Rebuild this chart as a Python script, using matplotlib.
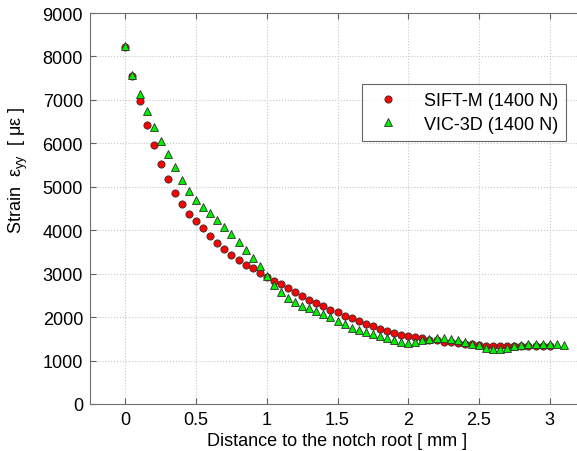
import numpy as np
import matplotlib
matplotlib.use('Agg')
import matplotlib.pyplot as plt

plt.rcParams['font.family'] = ['Liberation Sans', 'DejaVu Sans']
plt.rcParams['mathtext.fontset'] = 'custom'
plt.rcParams['mathtext.rm'] = 'Liberation Sans'
plt.rcParams['mathtext.it'] = 'Liberation Sans'

# distance to notch root [mm], sampled every 0.05 mm
sift_x = np.round(np.arange(61) * 0.05, 2)
sift_y = [8220, 7560, 6975, 6430, 5962, 5532, 5175, 4857, 4604, 4381,
          4220, 4045, 3875, 3714, 3568, 3430, 3305, 3200, 3130, 3015,
          2920, 2830, 2755, 2663, 2571, 2479, 2402, 2325, 2249, 2171,
          2111, 2033, 1973, 1911, 1849, 1789, 1734, 1680, 1634, 1595,
          1560, 1535, 1512, 1480, 1465, 1434, 1420, 1404, 1388, 1373,
          1358, 1345, 1340, 1335, 1335, 1338, 1340, 1342, 1340, 1335,
          1330]

vic_x = np.round(np.arange(63) * 0.05, 2)
vic_y = [8240, 7580, 7130, 6737, 6384, 6062, 5755, 5450, 5150, 4910,
         4703, 4542, 4390, 4236, 4081, 3913, 3736, 3545, 3354, 3165,
         2940, 2740, 2571, 2440, 2341, 2263, 2203, 2141, 2079, 2003,
         1911, 1834, 1757, 1696, 1650, 1604, 1558, 1512, 1473, 1434,
         1410, 1434, 1480, 1496, 1512, 1512, 1496, 1465, 1434, 1388,
         1358, 1296, 1266, 1266, 1296, 1327, 1358, 1373, 1373, 1388,
         1388, 1373, 1358]

x_ticks = [0, 0.5, 1, 1.5, 2, 2.5, 3]
x_labels = ['0', '0.5', '1', '1.5', '2', '2.5', '3']
y_ticks = list(range(0, 9001, 1000))

fig = plt.figure(figsize=(5.77, 4.52), dpi=100)
ax = fig.add_axes([0.156, 0.104, 0.858, 0.865])

ax.plot(sift_x, sift_y, 'o', color='#ff0000', markeredgecolor='#303030',
        markeredgewidth=0.6, markersize=5.2, label='SIFT-M (1400 N)')
ax.plot(vic_x, vic_y, '^', color='#00f000', markeredgecolor='#303030',
        markeredgewidth=0.6, markersize=5.8, label='VIC-3D (1400 N)')

ax.set_xlim(-0.25, 3.25)
ax.set_ylim(0, 9000)
ax.set_xticks(x_ticks)
ax.set_xticklabels(x_labels)
ax.set_yticks(y_ticks)
ax.grid(True, linestyle=':', color='#c8c8c8', linewidth=0.8)
ax.tick_params(direction='in', top=True, right=True, length=4,
               labelsize=13, color='#606060')
ax.tick_params(axis='x', pad=5)
ax.tick_params(axis='y', pad=5)
for s in ax.spines.values():
    s.set_color('#707070')

ax.set_xlabel('Distance to the notch root [ mm ]', fontsize=13, labelpad=3)
ax.set_ylabel('Strain  ε$_{\\mathregular{yy}}$  [ με ]', fontsize=13)
ax.yaxis.set_label_coords(-0.122, 0.6)

leg = ax.legend(loc='upper left', bbox_to_anchor=(0.549, 0.818),
                fontsize=13, fancybox=False, edgecolor='#404040',
                borderpad=0.45, handletextpad=1.0, borderaxespad=0,
                labelspacing=0.35)
leg.get_frame().set_linewidth(0.8)

fig.savefig('out.png', dpi=100)
